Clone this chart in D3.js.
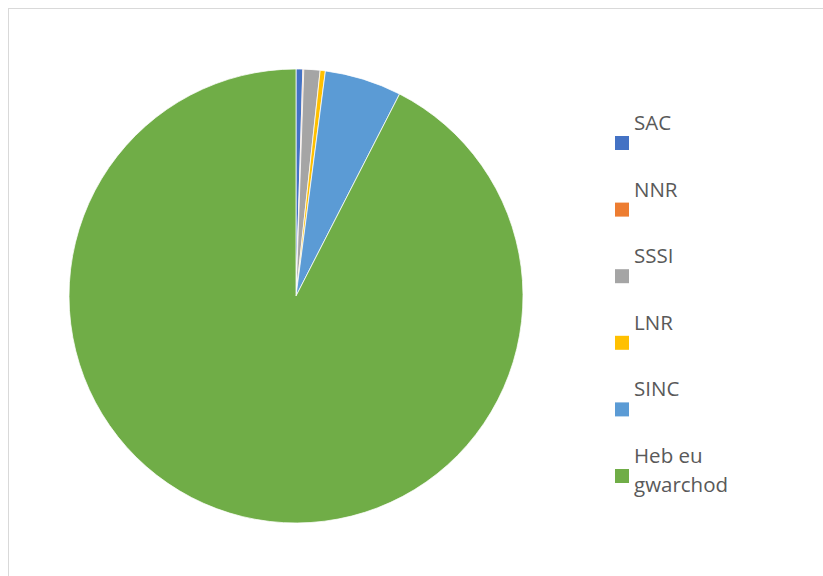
<!DOCTYPE html>
<html>
<head>
<meta charset="utf-8">
<script src="https://cdn.jsdelivr.net/npm/d3@7"></script>
<style>
html,body{margin:0;padding:0;background:#fff;}
svg{display:block;}
</style>
</head>
<body>
<svg id="chart" width="823" height="576"></svg>
<script>
const categories = ["SAC", "NNR", "SSSI", "LNR", "SINC", "Heb eu gwarchod"];
const legendLines = [["SAC"], ["NNR"], ["SSSI"], ["LNR"], ["SINC"], ["Heb eu", "gwarchod"]];
const values = [0.48, 0.07, 1.15, 0.37, 5.47, 92.46];
const colors = ["#4472C4", "#ED7D31", "#A5A5A5", "#FFC000", "#5B9BD5", "#70AD47"];

const svg = d3.select("#chart");

svg.append("rect")
  .attr("x", 8.5).attr("y", 8.5)
  .attr("width", 830).attr("height", 600)
  .attr("fill", "#fff")
  .attr("stroke", "#d9d9d9").attr("stroke-width", 1);

const cx = 296, cy = 296, r = 227;
const color = d3.scaleOrdinal().domain(categories).range(colors);

const pie = d3.pie().sort(null).value(d => d.v);
const data = categories.map((c, i) => ({c, v: values[i]}));
const arc = d3.arc().innerRadius(0).outerRadius(r);

svg.append("g")
  .attr("transform", `translate(${cx},${cy})`)
  .selectAll("path")
  .data(pie(data))
  .join("path")
  .attr("d", arc)
  .attr("fill", d => color(d.data.c))
  .attr("stroke", "#fff")
  .attr("stroke-width", 0.75);

const legendY = d3.scalePoint().domain(categories).range([136, 469]);
const lg = svg.append("g");
categories.forEach((c, i) => {
  const y = legendY(c);
  lg.append("rect")
    .attr("x", 615).attr("y", y)
    .attr("width", 14).attr("height", 14)
    .attr("fill", color(c));
  const t = lg.append("text")
    .attr("x", 634).attr("y", y - 6)
    .attr("font-family", "'Open Sans', sans-serif")
    .attr("font-size", "20.5px")
    .attr("fill", "#595959");
  legendLines[i].forEach((line, j) => {
    t.append("tspan").attr("x", 634).attr("y", y - 6 + j * 28.5).text(line);
  });
});
</script>
</body>
</html>
